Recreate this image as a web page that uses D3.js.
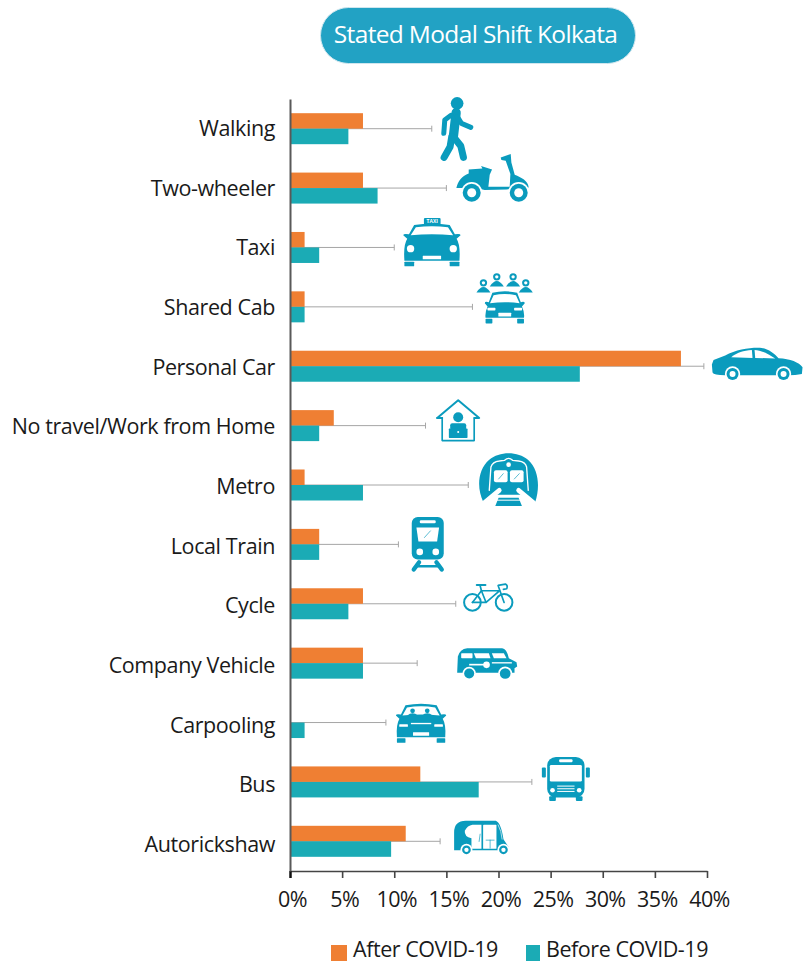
<!DOCTYPE html>
<html>
<head>
<meta charset="utf-8">
<script src="https://cdn.jsdelivr.net/npm/d3@7"></script>
<style>
  html, body { margin: 0; padding: 0; background: #fff; }
  svg { display: block; }
  text { font-family: "Open Sans", sans-serif; fill: #1a1a1a; }
</style>
</head>
<body>
<svg id="chart" width="803" height="963"></svg>
<script>
// values, top row first
const categories = ["Walking", "Two-wheeler", "Taxi", "Shared Cab", "Personal Car",
    "No travel/Work from Home", "Metro", "Local Train", "Cycle", "Company Vehicle",
    "Carpooling", "Bus", "Autorickshaw"];
const afterCovid = [7, 7, 1.4, 1.4, 37.5, 4.2, 1.4, 2.8, 7, 7, 0, 12.5, 11.1];
const beforeCovid = [5.6, 8.4, 2.8, 1.4, 27.8, 2.8, 7, 2.8, 5.6, 7, 1.4, 18.1, 9.7];
const leaderEnds = [13.6, 15, 10, 17.5, 39.7, 13, 17.1, 10.4, 15.9, 12.2, 9.2, 23.2, 14.4];
const xTicks = [0, 5, 10, 15, 20, 25, 30, 35, 40];
const seriesNames = ["After COVID-19", "Before COVID-19"];
const seriesColours = ["#ef7f33", "#1babb5"];
const titleText = "Stated Modal Shift Kolkata";

const ICON = "#0a9bbd";
const WHITE = "#fff";

let svg = d3.select("#chart");

let x = d3.scaleLinear().domain([0, 40]).range([290, 707]);
let y = d3.scaleBand().domain(categories).range([99, 871])
    .paddingInner(0.478).paddingOuter(0.239);
let ySeries = d3.scaleBand().domain(seriesNames).range([0, y.bandwidth()]);
//the labels run on a slightly longer pitch than the bars in the original
let yLabel = d3.scalePoint().domain(categories).range([129, 845]);

//small helpers for the pictograms, all in a 3x local space
let fillPath = (g, d, c) => g.append("path").attr("d", d).attr("fill", c || ICON);
let strokePath = (g, d, w, c) => g.append("path").attr("d", d).attr("fill", "none")
    .attr("stroke", c || ICON).attr("stroke-width", w)
    .attr("stroke-linecap", "round").attr("stroke-linejoin", "round");
let dot = (g, cx, cy, r, c) => g.append("circle").attr("cx", cx).attr("cy", cy).attr("r", r)
    .attr("fill", c || ICON);
let box = (g, x0, y0, w, h, rx, c) => g.append("rect").attr("x", x0).attr("y", y0)
    .attr("width", w).attr("height", h).attr("rx", rx).attr("fill", c || ICON);
let wheel = (g, cx, cy, r) => {
    dot(g, cx, cy, r + 5, WHITE);
    dot(g, cx, cy, r);
    dot(g, cx, cy, r * 0.5, WHITE);
};

//car seen from the front, shared by taxi, shared cab and carpool
let frontCar = function(g, w, h, top){
    let m = w / 2;
    fillPath(g, `M0,${top + 34} Q0,${top + 28} ${w * 0.1},${top + 31} L${w * 0.19},${top + 3}
        Q${m},${top - 6} ${w * 0.81},${top + 3} L${w * 0.9},${top + 31} Q${w},${top + 28} ${w},${top + 34}
        L${w * 0.93},${top + 44} Q${w},${top + 62} ${w * 0.98},${h - 17} L${w * 0.02},${h - 17}
        Q0,${top + 62} ${w * 0.07},${top + 44} Z`);
    fillPath(g, `M${w * 0.13},${top + 34} L${w * 0.22},${top + 10} Q${m},${top + 3} ${w * 0.78},${top + 10}
        L${w * 0.87},${top + 34} Q${m},${top + 28} ${w * 0.13},${top + 34} Z`, WHITE);
    box(g, w * 0.02, h - 14, w * 0.17, 14, 2);
    box(g, w * 0.81, h - 14, w * 0.17, 14, 2);
    box(g, w * 0.34, h - 32, w * 0.32, 11, 1, WHITE);
};

//one pictogram per category; dx, dy place it from the end of the leader line
let icons = {
    "Walking": {dx: 9, dy: -32, draw: g => {
        dot(g, 49, 20, 19);
        strokePath(g, "M46,48 L38,118", 28);
        strokePath(g, "M30,56 L12,70 L9,110", 15);
        strokePath(g, "M50,60 L62,80 L90,92", 15);
        strokePath(g, "M33,120 L28,150 L10,182", 21);
        strokePath(g, "M42,125 L60,148 L68,182", 21);
    }},
    "Two-wheeler": {dx: 10, dy: -34, draw: g => {
        fillPath(g, `M0,102 C4,82 18,64 37,58 L37,46 L78,43 L74,36 L107,46 L100,62 L96,98 L160,98 L162,60
            L148,20 L135,18 L133,10 L163,0 L165,25 L175,62 C195,70 215,80 217,100 L150,106 L85,108 L60,102 Z`);
        wheel(g, 46, 116, 27);
        wheel(g, 187, 116, 27);
    }},
    "Taxi": {dx: 9, dy: -29.5, draw: g => {
        box(g, 62, 0, 50, 20, 3);
        g.append("text").attr("x", 87).attr("y", 16).attr("text-anchor", "middle")
            .attr("font-size", 15).attr("font-weight", 700).style("fill", WHITE).text("TAXI");
        frontCar(g, 172, 145, 18);
        dot(g, 22, 92, 11, WHITE);
        dot(g, 150, 92, 11, WHITE);
    }},
    "Shared Cab": {dx: 4, dy: -35, draw: g => {
        [[21, 33], [61, 15], [110, 15], [148, 33]].forEach(p => {
            dot(g, p[0], p[1], 11);
            dot(g, p[0], p[1], 5, WHITE);
            fillPath(g, `M${p[0] - 21},${p[1] + 29} Q${p[0]},${p[1] - 4} ${p[0] + 21},${p[1] + 29} Z`);
        });
        let car = g.append("g").attr("transform", "translate(25,60)");
        frontCar(car, 120, 95, 0);
        box(car, 8, 48, 24, 8, 2, WHITE);
        box(car, 88, 48, 24, 8, 2, WHITE);
    }},
    "Personal Car": {dx: 8, dy: -19, draw: g => {
        fillPath(g, `M0,52 L5,38 L40,25 C75,5 120,0 150,2 C170,5 190,20 200,33 C235,35 262,45 272,60
            L270,80 Q250,84 230,84 L40,84 Q5,84 2,76 Z`);
        fillPath(g, "M58,30 C75,15 95,10 120,8 L122,32 Z", WHITE);
        fillPath(g, "M128,8 C150,10 170,20 190,34 L130,32 Z", WHITE);
        wheel(g, 62, 80, 18);
        wheel(g, 215, 80, 18);
    }},
    "No travel/Work from Home": {dx: 10, dy: -27, draw: g => {
        strokePath(g, "M5,58 L68,5 L131,58 L117,58", 6);
        strokePath(g, "M5,58 L20,58", 6);
        strokePath(g, "M20,58 L20,126 L116,126 L116,58", 5);
        dot(g, 68, 56, 15);
        box(g, 44, 74, 48, 20, 6);
        box(g, 40, 90, 56, 28, 2);
        dot(g, 68, 100, 3, WHITE);
    }},
    "Metro": {dx: 11, dy: -32, draw: g => {
        fillPath(g, `M12,147 C-8,105 -5,50 30,20 C60,-6 116,-6 146,20 C180,50 182,105 168,147
            L125,125 L51,125 Z`);
        strokePath(g, "M30,112 L35,42 Q40,26 60,24 L76,22 Q88,10 100,22 L118,24 Q138,26 142,42 L147,112", 4, WHITE);
        dot(g, 88, 35, 7, WHITE);
        box(g, 44, 52, 41, 36, 6, WHITE);
        box(g, 92, 52, 41, 36, 6, WHITE);
        strokePath(g, "M58,78 L72,62", 2);
        strokePath(g, "M105,78 L120,62", 2);
        strokePath(g, "M14,150 L60,112", 14, WHITE);
        strokePath(g, "M164,150 L118,112", 14, WHITE);
        fillPath(g, "M48,159 L128,159 L118,134 L58,134 Z");
        box(g, 52, 140, 72, 3, 0, WHITE);
    }},
    "Local Train": {dx: 12, dy: -27.5, draw: g => {
        box(g, 4, 0, 96, 128, 18);
        box(g, 28, 10, 48, 9, 4, WHITE);
        fillPath(g, "M18,32 L86,32 L80,74 L24,74 Z", WHITE);
        strokePath(g, "M42,62 L60,42", 2);
        dot(g, 28, 105, 10, WHITE);
        dot(g, 76, 105, 10, WHITE);
        strokePath(g, "M26,136 L10,158", 13);
        strokePath(g, "M78,136 L94,158", 13);
        strokePath(g, "M20,148 L84,148", 7);
    }},
    "Cycle": {dx: 7, dy: -21, draw: g => {
        [[29, 59], [124, 59]].forEach(c => {
            g.append("circle").attr("cx", c[0]).attr("cy", c[1]).attr("r", 25)
                .attr("fill", "none").attr("stroke", ICON).attr("stroke-width", 6);
        });
        strokePath(g, "M29,59 L70,59 L110,24 L56,24 L70,59", 5);
        strokePath(g, "M29,59 L56,24 L52,8", 5);
        strokePath(g, "M42,7 L68,7", 6);
        strokePath(g, "M124,59 L106,8 L128,4 Q136,8 132,18 L122,20", 5);
    }},
    "Company Vehicle": {dx: 40, dy: -15, draw: g => {
        fillPath(g, `M0,72 L2,25 Q8,2 30,0 L135,0 Q148,0 155,30 L178,42 L180,55 L172,60 L172,74 L0,74 Z`);
        box(g, 12, 15, 34, 15, 2, WHITE);
        fillPath(g, "M50,15 L95,15 L100,30 L56,30 Z", WHITE);
        fillPath(g, "M104,15 L140,15 L148,30 L110,30 Z", WHITE);
        box(g, 36, 47, 50, 5, 0, WHITE);
        dot(g, 88, 50, 10, WHITE);
        box(g, 104, 42, 60, 4, 0, WHITE);
        dot(g, 36, 76, 20, WHITE);
        dot(g, 36, 76, 15);
        dot(g, 144, 76, 21, WHITE);
        dot(g, 144, 76, 16);
    }},
    "Carpooling": {dx: 10, dy: -19, draw: g => {
        frontCar(g, 151, 118, 2);
        dot(g, 50, 22, 7);
        dot(g, 94, 22, 7);
        fillPath(g, "M34,36 Q50,22 66,36 Z");
        fillPath(g, "M78,36 Q94,22 110,36 Z");
        box(g, 10, 62, 26, 8, 2, WHITE);
        box(g, 115, 62, 26, 8, 2, WHITE);
        box(g, 45, 58, 61, 4, 0, WHITE);
    }},
    "Bus": {dx: 10, dy: -25, draw: g => {
        box(g, 16, 0, 112, 122, 26);
        box(g, 0, 32, 12, 30, 3);
        box(g, 132, 32, 12, 30, 3);
        box(g, 52, 7, 40, 9, 3, WHITE);
        box(g, 24, 24, 96, 50, 4, WHITE);
        dot(g, 32, 100, 7, WHITE);
        dot(g, 112, 100, 7, WHITE);
        [86, 94, 102].forEach(yy => box(g, 46, yy, 52, 3, 0, WHITE));
        box(g, 22, 118, 20, 14, 3);
        box(g, 102, 118, 20, 14, 3);
    }},
    "Autorickshaw": {dx: 14, dy: -20.5, draw: g => {
        fillPath(g, "M0,85 L0,35 Q0,0 35,0 L125,0 Q140,5 148,55 L163,78 L140,88 L0,88 Z");
        fillPath(g, "M55,12 L82,12 L82,84 L52,84 L52,52 Q30,48 32,30 Q40,14 55,12 Z", WHITE);
        box(g, 87, 12, 40, 72, 2, WHITE);
        strokePath(g, "M78,40 L75,62", 2);
        strokePath(g, "M96,58 L120,58 M108,58 L108,82", 2);
        strokePath(g, "M132,12 Q142,30 144,55", 2, WHITE);
        wheel(g, 37, 87, 13);
        wheel(g, 148, 87, 13);
    }}
};

//title pill
svg.append("rect").attr("x", 320.5).attr("y", 7.5).attr("width", 315).attr("height", 56).attr("rx", 28)
    .attr("fill", "#22a2c4").attr("stroke", "#cfe6ee").attr("stroke-width", 1);
svg.append("text").attr("x", 475.5).attr("y", 43).attr("text-anchor", "middle")
    .attr("font-size", 24.5).attr("letter-spacing", -0.65).style("fill", WHITE).text(titleText);

//leader lines sit under the bars
let leaders = svg.append("g").selectAll("g").data(categories).join("g")
    .attr("transform", d => `translate(0,${y(d) + y.bandwidth() / 2})`);
leaders.append("line")
    .attr("x1", x(0))
    .attr("x2", (d, i) => x(leaderEnds[i]))
    .attr("stroke", "#a6a6a6").attr("stroke-width", 1);
leaders.append("line")
    .attr("x1", (d, i) => x(leaderEnds[i])).attr("x2", (d, i) => x(leaderEnds[i]))
    .attr("y1", -3).attr("y2", 3)
    .attr("stroke", "#a6a6a6").attr("stroke-width", 1);

//bars
[afterCovid, beforeCovid].forEach((values, s) => {
    svg.append("g").selectAll("rect").data(categories).join("rect")
        .attr("x", x(0))
        .attr("y", d => y(d) + ySeries(seriesNames[s]))
        .attr("width", (d, i) => x(values[i]) - x(0))
        .attr("height", ySeries.bandwidth())
        .attr("fill", seriesColours[s]);
});

//pictograms
categories.forEach((c, i) => {
    let ic = icons[c];
    let g = svg.append("g").attr("transform",
        `translate(${x(leaderEnds[i]) + ic.dx},${y(c) + y.bandwidth() / 2 + ic.dy}) scale(${1 / 3})`);
    ic.draw(g);
});

//axes
let xAxis = svg.append("g").attr("transform", "translate(0,871)")
    .call(d3.axisBottom(x).tickValues(xTicks).tickFormat(d => d + "%").tickSize(7).tickSizeOuter(0).tickPadding(14));
xAxis.selectAll("path, line").attr("stroke", "#444").attr("stroke-width", 1.6);
xAxis.select(".tick line").attr("stroke", "#111").attr("stroke-width", 2.5);
xAxis.selectAll("text").attr("font-size", 21.5).attr("letter-spacing", -0.6).attr("dx", 2)
    .style("font-family", '"Open Sans", sans-serif').attr("fill", "#1a1a1a");

let yAxis = svg.append("g").attr("transform", "translate(290,0)")
    .call(d3.axisLeft(y).tickSize(0).tickPadding(15));
yAxis.select("path").attr("stroke", "#595959").attr("stroke-width", 2);
yAxis.selectAll(".tick").attr("transform", d => `translate(0,${yLabel(d)})`);
yAxis.selectAll("text").attr("font-size", 21.5).attr("letter-spacing", -0.4)
    .style("font-family", '"Open Sans", sans-serif').attr("fill", "#1a1a1a");

//legend, text lifted a little so its line box stays inside the page
let legendX = [331, 526];
let legendW = [16, 14];
let legendTextX = [22, 20];
seriesNames.forEach((name, i) => {
    let g = svg.append("g").attr("transform", `translate(${legendX[i]},945)`);
    g.append("rect").attr("width", legendW[i]).attr("height", 16).attr("fill", seriesColours[i]);
    g.append("text").attr("x", legendTextX[i]).attr("y", 12).attr("font-size", 21.5).attr("letter-spacing", -0.45).text(name);
});
</script>
</body>
</html>
